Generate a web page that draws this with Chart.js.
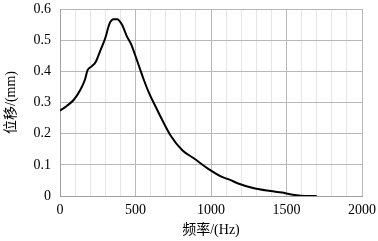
<!DOCTYPE html>
<html>
<head>
<meta charset="utf-8">
<script src="https://cdn.jsdelivr.net/npm/chart.js@4.4.1/dist/chart.umd.min.js"></script>
<style>
  html, body { margin: 0; padding: 0; background: #fff; }
  #wrap { width: 378px; height: 241px; }
</style>
</head>
<body>
<div id="wrap"><canvas id="c" width="378" height="241"></canvas></div>
<script>
// frequency (Hz) and displacement (mm)
const freqHz = [0, 45, 90, 135, 165, 182, 210, 235, 265, 300, 328, 355, 378, 410, 443, 472, 520, 555, 590, 633, 677, 730, 810, 886, 995, 1065, 1130, 1175, 1285, 1395, 1470, 1530, 1595, 1700];
const dispMm = [0.274, 0.289, 0.308, 0.341, 0.373, 0.403, 0.416, 0.429, 0.464, 0.507, 0.553, 0.567, 0.567, 0.550, 0.512, 0.486, 0.421, 0.373, 0.330, 0.287, 0.244, 0.196, 0.147, 0.121, 0.083, 0.063, 0.051, 0.041, 0.025, 0.016, 0.011, 0.005, 0.001, 0];

const xTickLabels = [0, 500, 1000, 1500, 2000];
const yTickLabels = ['0', '0.1', '0.2', '0.3', '0.4', '0.5', '0.6'];

const xTitle = '频率/(Hz)';
const yTitle = '位移/(mm)';

const serif = "'Liberation Serif', 'Times New Roman', 'Noto Sans CJK SC', serif";

const points = freqHz.map((f, i) => ({ x: f, y: dispMm[i] }));

new Chart(document.getElementById('c').getContext('2d'), {
    type: 'scatter',
    data: {
        datasets: [{
            data: points,
            showLine: true,
            borderColor: '#000',
            borderWidth: 2,
            pointRadius: 0,
            cubicInterpolationMode: 'monotone',
            fill: false
        }]
    },
    options: {
        responsive: false,
        animation: false,
        layout: { autoPadding: false, padding: { top: 9, right: 16, bottom: 0, left: 0 } },
        plugins: { legend: { display: false }, tooltip: { enabled: false } },
        scales: {
            x: {
                type: 'linear',
                min: 0,
                max: 2000,
                // fixed axis box, no extra room for the end labels
                afterFit: (scale) => {
                    scale.height = 45;
                    scale.paddingLeft = 0;
                    scale.paddingRight = 0;
                },
                ticks: {
                    stepSize: 100,
                    autoSkip: false,
                    maxRotation: 0,
                    padding: 6,
                    color: '#000',
                    font: { family: serif, size: 14 },
                    callback: (v) => xTickLabels.includes(v) ? String(v) : ''
                },
                grid: {
                    color: (ctx) => (ctx.tick && ctx.tick.value % 500 === 0) ? '#b8b8b8' : '#e6e6e6',
                    lineWidth: 1,
                    drawTicks: false
                },
                border: { color: '#a0a0a0', width: 1 },
                title: {
                    display: true,
                    text: xTitle,
                    color: '#000',
                    font: { family: serif, size: 14 },
                    padding: { top: 0, bottom: 2 }
                }
            },
            y: {
                min: 0,
                max: 0.6,
                afterFit: (scale) => {
                    scale.width = 60;
                    scale.paddingTop = 0;
                    scale.paddingBottom = 0;
                },
                ticks: {
                    stepSize: 0.1,
                    padding: 9,
                    color: '#000',
                    font: { family: serif, size: 14 },
                    callback: (v) => yTickLabels[Math.round(v * 10)]
                },
                grid: { color: '#b8b8b8', lineWidth: 1, drawTicks: false },
                border: { color: '#a0a0a0', width: 1 },
                title: {
                    display: true,
                    text: yTitle,
                    color: '#000',
                    font: { family: serif, size: 14 },
                    padding: { top: 3, bottom: 0 }
                }
            }
        }
    }
});
</script>
</body>
</html>
